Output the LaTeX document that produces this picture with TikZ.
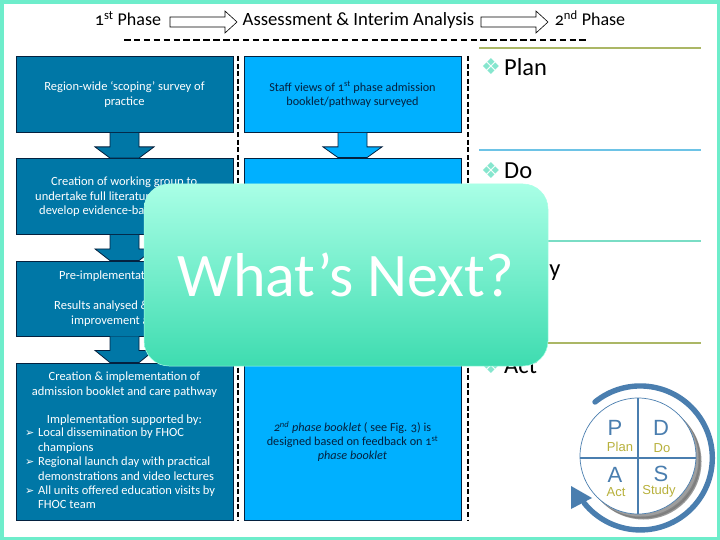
\documentclass[tikz,border=0pt]{standalone}
\usepackage{fontspec}
\setmainfont[Numbers=OldStyle]{Carlito}
\newfontfamily\symfont{DejaVu Sans}
\newfontfamily\logofont{Liberation Sans}
\usetikzlibrary{arrows.meta, positioning, calc}
\definecolor{framecol}{HTML}{6EEDCB}
\definecolor{darkbox}{HTML}{0077A6}
\definecolor{lightbox}{HTML}{00B0FF}
\definecolor{navyline}{HTML}{04213F}
\definecolor{bulletcol}{HTML}{86E6CE}
\definecolor{oliveline}{HTML}{ABB765}
\definecolor{blueline}{HTML}{6DC3E6}
\definecolor{tealline}{HTML}{7ADDC5}
\definecolor{logoblue}{HTML}{4A7EAF}
\definecolor{logogold}{HTML}{B8B13C}
\definecolor{overtop}{HTML}{A9FFE6}
\definecolor{overbottom}{HTML}{3EDCB0}
\newcommand{\boxfont}{\fontsize{12.5}{15}\selectfont}
\newcommand{\midfont}{\fontsize{12.2}{14.2}\selectfont}
\newcommand{\listmark}{\makebox[13pt][l]{\symfont\fontsize{11}{11}\selectfont ➢}}
\begin{document}
\begin{tikzpicture}[x=1pt, y=-1pt,
    stagebox/.style={draw=navyline, line width=0.8pt, inner sep=0pt, minimum width=217pt, font=\boxfont, align=center},
    leftbox/.style={stagebox, fill=darkbox, text=white},
    midbox/.style={stagebox, fill=lightbox, text=navyline},
    lefttxt/.style={font=\boxfont, text=white, inner sep=0pt},
    headtxt/.style={font=\fontsize{18}{20}\selectfont, text=black, inner sep=0pt, anchor=base},
    phasearrow/.style={draw=black, line width=0.6pt, fill=white},
    downarrow/.style={draw=navyline, line width=0.8pt},
    divider/.style={line width=1.5pt, dash pattern=on 5pt off 2.6pt},
    pdcatxt/.style={font=\logofont\fontsize{22}{22}\selectfont, text=logoblue, inner sep=0pt},
    pdcasub/.style={font=\logofont\fontsize{13}{13}\selectfont, text=logogold, inner sep=0pt}]
  \useasboundingbox (0,0) rectangle (720,540);
  \fill[framecol] (0,0) rectangle (720,540);
  \fill[white] (4,4) rectangle (716.5,536.5);

  \node[headtxt] (phaseone) at (128,26) {1\textsuperscript{st} Phase};
  \node[headtxt, font=\fontsize{18.7}{20}\selectfont] (interim) at (358.5,26) {Assessment \& Interim Analysis};
  \node[headtxt] (phasetwo) at (590,26) {2\textsuperscript{nd} Phase};
  \foreach \x in {170,481} {
    \draw[phasearrow] (\x,17) -- ++(55,0) -- ++(0,-6) -- ++(12,11) -- ++(-12,11) -- ++(0,-6) -- ++(-55,0) -- cycle;
  }
  \draw[line width=1.2pt, dash pattern=on 6.5pt off 3.4pt] (124,40) -- (589,40);
  \draw[divider] (238,56) -- (238,521);
  \draw[divider] (468,56) -- (468,521);

  \node[leftbox, minimum height=76pt] (rone) at (124.5,94.5) {Region-wide ‘scoping’ survey of\\practice};
  \node[leftbox, minimum height=76pt] (rtwo) at (124.5,196.5) {};
  \node[leftbox, minimum height=75pt] (rthree) at (124.5,298.5) {};
  \node[leftbox, minimum height=157pt] (rfour) at (124.5,441.5) {};
  \node[midbox, minimum height=76pt, font=\midfont] (mone) at (352.5,94.5) {Staff views of 1\textsuperscript{st} phase admission\\booklet/pathway surveyed};
  \node[midbox, minimum height=206pt] (mtwo) at (352.5,261) {};
  \node[midbox, minimum height=157pt, font=\midfont] (mthree) at (352.5,441.5) {\textit{2\textsuperscript{nd} phase booklet} ( see Fig. 3) is\\designed based on feedback on 1\textsuperscript{st}\\\textit{phase booklet}};

  \foreach \a/\b/\c in {rone/rtwo/darkbox, rtwo/rthree/darkbox, rthree/rfour/darkbox, mone/mtwo/lightbox} {
    \filldraw[downarrow, fill=\c] ($(\a.south)+(-14.5,0)$) -- ++(0,14) -- ++(-15,0) -- ($(\b.north)+(-14.5,0)$)
      -- ($(\b.north)+(14.5,0)$) -- ($(\a.south)+(29.5,14)$) -- ++(-15,0) -- ($(\a.south)+(14.5,0)$);
  }

  \node[lefttxt, anchor=west] (rtwoa) at (51,182) {Creation of working group to};
  \node[lefttxt, anchor=west] (rtwob) at (35,196) {undertake full literature};
  \node[lefttxt, anchor=west] (rtwoc) at (39,211) {develop evidence-based};
  \node[lefttxt, anchor=west] (rthreea) at (59,276) {Pre-implementation};
  \node[lefttxt, anchor=west] (rthreeb) at (54,306) {Results analysed \&};
  \node[lefttxt, anchor=west] (rthreec) at (71,321) {improvement a};
  \node[lefttxt, align=center] (rfourhead) at (124.5,384.5) {Creation \& implementation of\\admission booklet and care pathway};
  \node[lefttxt] (rfoursup) at (124.5,420) {Implementation supported by:};
  \node[lefttxt, align=left, anchor=north west, font=\fontsize{12.5}{14.4}\selectfont] (rfourlist) at (25,428) {\listmark Local dissemination by FHOC\\\hspace{13pt}champions\\\listmark Regional launch day with practical\\\hspace{13pt}demonstrations and video lectures\\\listmark All units offered education visits by\\\hspace{13pt}FHOC team};

  \foreach \n/\y/\c in {a/48/oliveline, b/150/blueline, c/241/tealline, d/343/oliveline} {
    \fill[\c] (479,\y-1.3) rectangle (701,\y+1.3);
  }
  \foreach \n/\y/\t in {plan/67/Plan, do/171/Do, study/270/Study, act/366/Act} {
    \node[inner sep=0pt, text=bulletcol, font=\symfont\fontsize{22}{22}\selectfont] (b\n) at (491,\y) {❖};
    \node[inner sep=0pt, anchor=west, font=\fontsize{24.5}{26}\selectfont] (t\n) at (504,\y) {\t};
  }

  \foreach \o/\g in {5.5/88, 4.5/65, 3.5/45, 2.5/25} {
    \fill[black!\g!white, opacity=0.45] (638+\o,456+\o) circle[radius=58pt];
  }
  \filldraw[draw=logoblue, line width=0.7pt, fill=white] (638,456) circle[radius=58pt];
  \draw[logoblue, line width=1.4pt] (638,398) -- (638,514);
  \draw[logoblue, line width=1.4pt] (580,458) -- (696,458);
  \draw[logoblue, line width=5.4pt, line cap=round] (595,402) arc[start angle=129, end angle=-141, radius=72pt];
  \fill[logoblue] (571,486) -- (592,498) -- (571,509) -- cycle;
  \node[pdcatxt] (pp) at (615,428) {P};
  \node[pdcasub] (pplan) at (620,447) {Plan};
  \node[pdcatxt] (pd) at (661,428) {D};
  \node[pdcasub] (pdo) at (662,448) {Do};
  \node[pdcatxt] (pa) at (615,475) {A};
  \node[pdcasub] (pact) at (616,492) {Act};
  \node[pdcatxt] (ps) at (661,474) {S};
  \node[pdcasub] (pstudy) at (659,491) {Study};

  \node[rounded corners=25pt, minimum width=404pt, minimum height=182pt, inner sep=0pt, top color=overtop, bottom color=overbottom, text=white, font=\fontsize{62}{62}\selectfont, draw=overtop, line width=0.5pt] (whatnext) at (346,275) {What’s Next?};
\end{tikzpicture}
\end{document}
